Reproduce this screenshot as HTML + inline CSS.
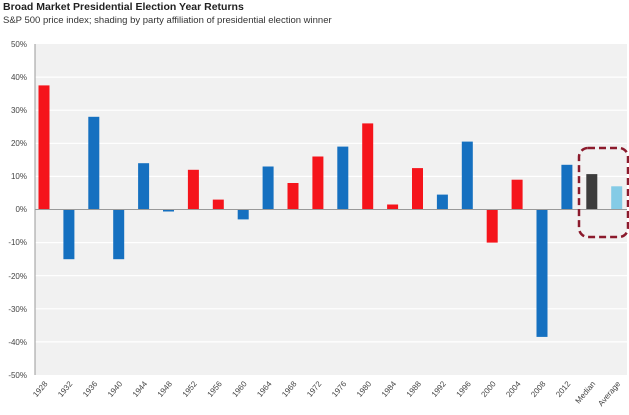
<!DOCTYPE html>
<html><head><meta charset="utf-8"><style>
body{margin:0;background:#fff;width:629px;height:415px;overflow:hidden}
svg{display:block;font-family:"Liberation Sans",sans-serif}
</style></head><body>
<svg width="629" height="415" viewBox="0 0 629 415">
<text x="3" y="10" font-size="10.5" font-weight="bold" fill="#222">Broad Market Presidential Election Year Returns</text>
<text x="3" y="23" font-size="9.5" fill="#333">S&amp;P 500 price index; shading by party affiliation of presidential election winner</text>
<rect x="35" y="44" width="592" height="331" fill="#f1f1f1"/>
<g stroke="#fff" stroke-width="1.2">
<line x1="35" x2="627" y1="77.1" y2="77.1"/><line x1="35" x2="627" y1="110.2" y2="110.2"/>
<line x1="35" x2="627" y1="143.3" y2="143.3"/><line x1="35" x2="627" y1="176.4" y2="176.4"/>
<line x1="35" x2="627" y1="242.6" y2="242.6"/><line x1="35" x2="627" y1="275.7" y2="275.7"/>
<line x1="35" x2="627" y1="308.8" y2="308.8"/><line x1="35" x2="627" y1="341.9" y2="341.9"/>
</g>
<line x1="35" x2="35" y1="44" y2="375" stroke="#999"/>
<g font-size="8" fill="#444" text-anchor="end">
<text x="27" y="47">50%</text><text x="27" y="80">40%</text><text x="27" y="113">30%</text>
<text x="27" y="146">20%</text><text x="27" y="179">10%</text><text x="27" y="212">0%</text>
<text x="27" y="245">-10%</text><text x="27" y="279">-20%</text><text x="27" y="312">-30%</text>
<text x="27" y="345">-40%</text><text x="27" y="378">-50%</text>
</g>
<g>
<rect x="38.5" y="85.4" width="11" height="124.1" fill="#f5141b"/>
<rect x="63.4" y="209.5" width="11" height="49.7" fill="#1570c0"/>
<rect x="88.3" y="116.8" width="11" height="92.7" fill="#1570c0"/>
<rect x="113.2" y="209.5" width="11" height="49.7" fill="#1570c0"/>
<rect x="138.1" y="163.2" width="11" height="46.3" fill="#1570c0"/>
<rect x="163" y="209.5" width="11" height="2" fill="#1570c0"/>
<rect x="187.9" y="169.8" width="11" height="39.7" fill="#f5141b"/>
<rect x="212.8" y="199.6" width="11" height="9.9" fill="#f5141b"/>
<rect x="237.7" y="209.5" width="11" height="9.9" fill="#1570c0"/>
<rect x="262.6" y="166.5" width="11" height="43" fill="#1570c0"/>
<rect x="287.5" y="183" width="11" height="26.5" fill="#f5141b"/>
<rect x="312.4" y="156.5" width="11" height="53" fill="#f5141b"/>
<rect x="337.3" y="146.6" width="11" height="62.9" fill="#1570c0"/>
<rect x="362.2" y="123.4" width="11" height="86.1" fill="#f5141b"/>
<rect x="387.1" y="204.5" width="11" height="5" fill="#f5141b"/>
<rect x="412" y="168.1" width="11" height="41.4" fill="#f5141b"/>
<rect x="436.9" y="194.6" width="11" height="14.9" fill="#1570c0"/>
<rect x="461.8" y="141.6" width="11" height="67.9" fill="#1570c0"/>
<rect x="486.7" y="209.5" width="11" height="33.1" fill="#f5141b"/>
<rect x="511.6" y="179.7" width="11" height="29.8" fill="#f5141b"/>
<rect x="536.5" y="209.5" width="11" height="127.4" fill="#1570c0"/>
<rect x="561.4" y="164.8" width="11" height="44.7" fill="#1570c0"/>
<rect x="586.3" y="174.1" width="11" height="35.4" fill="#3c3c3c"/>
<rect x="611.2" y="186.3" width="11" height="23.2" fill="#84cbe6"/>
</g>
<line x1="35" x2="627" y1="209.5" y2="209.5" stroke="#999"/>
<rect x="579" y="148" width="49" height="89" rx="9" fill="none" stroke="#8b1a2c" stroke-width="2.5" stroke-dasharray="7,4"/>
<g font-size="8" fill="#444" text-anchor="end">
<text transform="translate(48,384) rotate(-50)">1928</text>
<text transform="translate(72.9,384) rotate(-50)">1932</text>
<text transform="translate(97.8,384) rotate(-50)">1936</text>
<text transform="translate(122.7,384) rotate(-50)">1940</text>
<text transform="translate(147.6,384) rotate(-50)">1944</text>
<text transform="translate(172.5,384) rotate(-50)">1948</text>
<text transform="translate(197.4,384) rotate(-50)">1952</text>
<text transform="translate(222.3,384) rotate(-50)">1956</text>
<text transform="translate(247.2,384) rotate(-50)">1960</text>
<text transform="translate(272.1,384) rotate(-50)">1964</text>
<text transform="translate(297,384) rotate(-50)">1968</text>
<text transform="translate(321.9,384) rotate(-50)">1972</text>
<text transform="translate(346.8,384) rotate(-50)">1976</text>
<text transform="translate(371.7,384) rotate(-50)">1980</text>
<text transform="translate(396.6,384) rotate(-50)">1984</text>
<text transform="translate(421.5,384) rotate(-50)">1988</text>
<text transform="translate(446.4,384) rotate(-50)">1992</text>
<text transform="translate(471.3,384) rotate(-50)">1996</text>
<text transform="translate(496.2,384) rotate(-50)">2000</text>
<text transform="translate(521.1,384) rotate(-50)">2004</text>
<text transform="translate(546,384) rotate(-50)">2008</text>
<text transform="translate(570.9,384) rotate(-50)">2012</text>
<text transform="translate(595.8,384) rotate(-50)">Median</text>
<text transform="translate(620.7,384) rotate(-50)">Average</text>
</g>
</svg>
</body></html>
